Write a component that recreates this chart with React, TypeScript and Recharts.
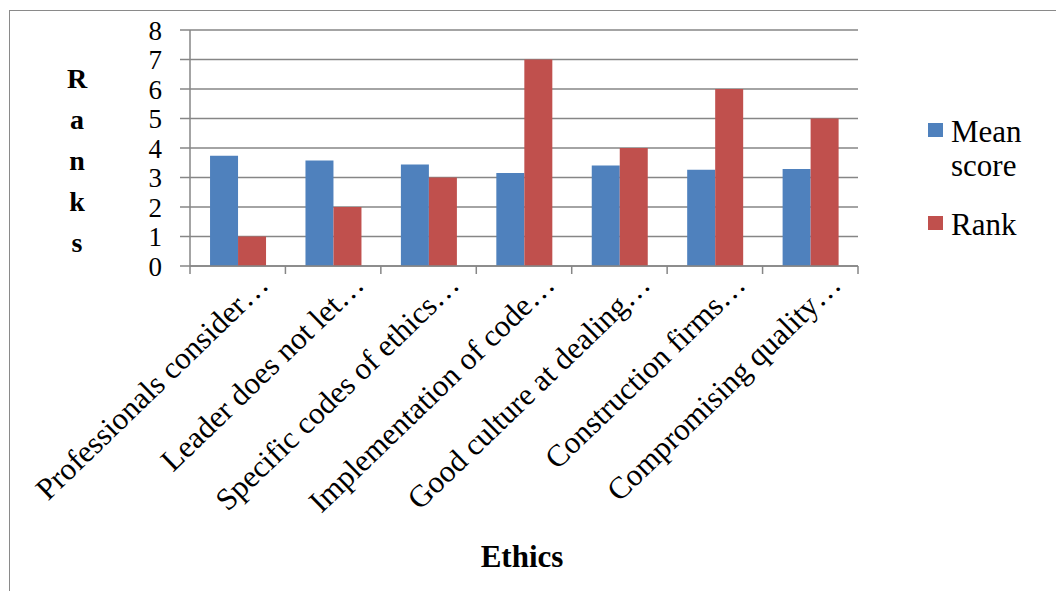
import React from 'react';
import { BarChart, Bar, XAxis, YAxis, CartesianGrid, Legend, Label } from 'recharts';

const categories = [
  'Professionals consider…',
  'Leader does not let…',
  'Specific codes of ethics…',
  'Implementation of code…',
  'Good culture at dealing…',
  'Construction firms…',
  'Compromising quality…',
];
const meanScore = [3.74, 3.58, 3.44, 3.15, 3.41, 3.26, 3.29];
const rank = [1, 2, 3, 7, 4, 6, 5];
const yTicks = [0, 1, 2, 3, 4, 5, 6, 7, 8];
const seriesNames = ['Mean score', 'Rank'];
const seriesColors = ['#4F81BD', '#C0504D'];
const yTitle = 'Ranks';
const xTitle = 'Ethics';

const data = categories.map((name, i) => ({ name, mean: meanScore[i], rank: rank[i] }));

const FONT = '"Liberation Serif", "Times New Roman", serif';
const GRID = '#868686';

const CatTick = (props: any) => {
  const { x, y, payload, index, width, visibleTicksCount } = props;
  let half = payload && typeof payload.offset === 'number' && payload.offset > 0 ? payload.offset : 0;
  if (!half && width && visibleTicksCount) half = width / visibleTicksCount / 2;
  const axisY = y - 8;
  return (
    <g>
      {index === 0 && <line x1={x - half} y1={axisY} x2={x - half} y2={y} stroke={GRID} strokeWidth={1.5} />}
      <line x1={x + half} y1={axisY} x2={x + half} y2={y} stroke={GRID} strokeWidth={1.5} />
      <text
        transform={`translate(${x + 25},${y + 5}) rotate(-44)`}
        textAnchor="end"
        dy="0.35em"
        fontSize={31}
        fontFamily={FONT}
        fill="#000"
      >
        {payload.value}
      </text>
    </g>
  );
};

const YTitle = (props: any) => {
  const vb = props.viewBox || {};
  const letters = yTitle.split('');
  return (
    <g>
      {letters.map((ch, i) => (
        <text
          key={i}
          x={77}
          y={88 + i * 41}
          textAnchor="middle"
          fontSize={28}
          fontWeight="bold"
          fontFamily={FONT}
          fill="#000"
        >
          {ch}
        </text>
      ))}
    </g>
  );
};

const XTitle = (props: any) => {
  const vb = props.viewBox || { x: 190, width: 668 };
  return (
    <text
      x={vb.x + vb.width / 2 - 2}
      y={567}
      textAnchor="middle"
      fontSize={31}
      fontWeight="bold"
      fontFamily={FONT}
      fill="#000"
    >
      {xTitle}
    </text>
  );
};

const LegendContent = () => (
  <div style={{ position: 'relative', height: 0, fontFamily: FONT, fontSize: 31, color: '#000' }}>
    <div style={{ position: 'absolute', left: 0, top: 0, width: 15, height: 14, background: seriesColors[0] }} />
    <div style={{ position: 'absolute', left: 23, top: -8, lineHeight: '34px', whiteSpace: 'nowrap' }}>
      Mean
      <br />
      score
    </div>
    <div style={{ position: 'absolute', left: 0, top: 93, width: 15, height: 14, background: seriesColors[1] }} />
    <div style={{ position: 'absolute', left: 23, top: 85, lineHeight: '34px', whiteSpace: 'nowrap' }}>Rank</div>
  </div>
);

export default function App() {
  return (
    <div style={{ position: 'absolute', left: 0, top: 0, width: 1056, height: 591, overflow: 'hidden', background: '#fff' }}>
      <div
        style={{
          position: 'absolute',
          left: 9,
          top: 10,
          width: 1200,
          height: 800,
          border: '1.5px solid #8a8a8a',
          boxSizing: 'border-box',
        }}
      />
      <div style={{ position: 'absolute', left: 0, top: 0 }}>
        <BarChart
          width={1056}
          height={591}
          data={data}
          margin={{ top: 30, right: 198, left: 0, bottom: 0 }}
          barCategoryGap="21%"
          barGap={0}
        >
          <CartesianGrid vertical={false} stroke={GRID} strokeWidth={1.5} />
          <XAxis
            dataKey="name"
            height={325}
            interval={0}
            tickLine={false}
            tickSize={8}
            tickMargin={0}
            axisLine={{ stroke: GRID, strokeWidth: 1.5 }}
            tick={<CatTick />}
          >
            <Label content={<XTitle />} />
          </XAxis>
          <YAxis
            width={190}
            domain={[0, 8]}
            ticks={yTicks}
            interval={0}
            tickSize={10}
            tickMargin={18}
            axisLine={{ stroke: GRID, strokeWidth: 1.5 }}
            tickLine={{ stroke: GRID, strokeWidth: 1.5 }}
            tick={{ fontSize: 27, fontFamily: FONT, fill: '#000' }}
          >
            <Label content={<YTitle />} />
          </YAxis>
          <Legend
            content={<LegendContent />}
            wrapperStyle={{ position: 'absolute', left: 928, top: 123, width: 128, height: 0 }}
          />
          <Bar dataKey="mean" name={seriesNames[0]} fill={seriesColors[0]} isAnimationActive={false} />
          <Bar dataKey="rank" name={seriesNames[1]} fill={seriesColors[1]} isAnimationActive={false} />
        </BarChart>
      </div>
    </div>
  );
}
